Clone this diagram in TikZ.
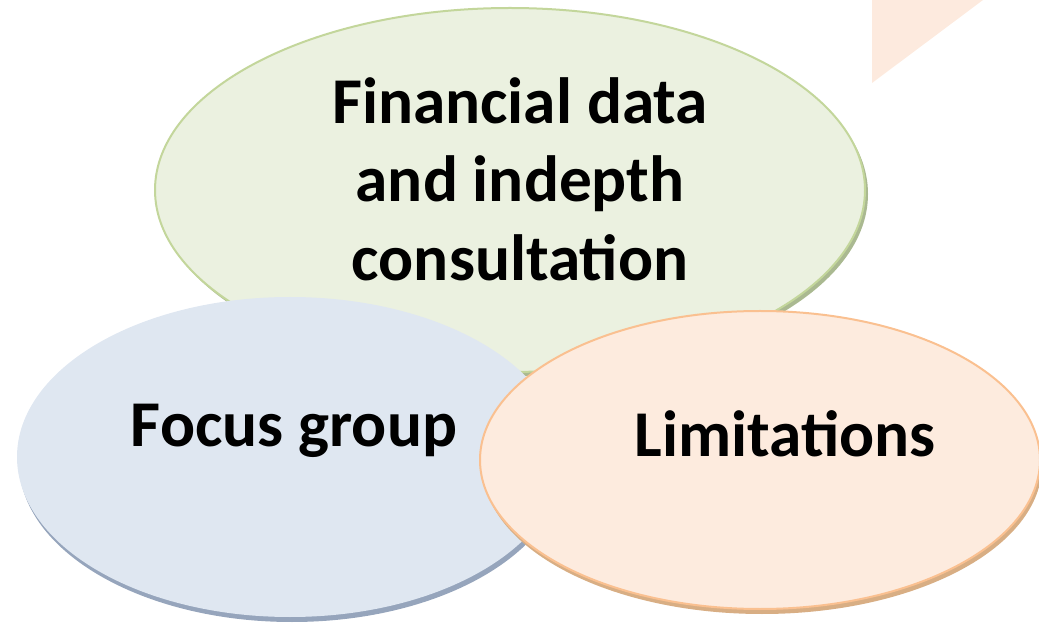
\documentclass[tikz,border=0pt]{standalone}
\usepackage{fontspec}
\setmainfont{Carlito}
\definecolor{grnfill}{RGB}{235,241,224}
\definecolor{grnline}{RGB}{195,214,155}
\definecolor{grnshade}{RGB}{170,185,145}
\definecolor{blufill}{RGB}{223,231,241}
\definecolor{blushade}{RGB}{150,165,188}
\definecolor{pchfill}{RGB}{253,235,222}
\definecolor{pchline}{RGB}{250,192,144}
\definecolor{pchshade}{RGB}{216,174,132}
\definecolor{pchtri}{RGB}{253,234,222}

\tikzset{every picture/.style={line width=0.75pt}}
\tikzset{bigtext/.style={inner sep=0.75pt, align=center, font={\fontsize{49}{59}\selectfont\bfseries}}}

\begin{document}
\begin{tikzpicture}[x=0.75pt,y=0.75pt,yscale=-1,xscale=1]
\useasboundingbox (0,0) rectangle (1039,623);
\clip (0,0) rectangle (1039,623);

%Shape: Triangle [id:tri01]
\fill [color=pchtri] (872,0) -- (983,0) -- (872,83) -- cycle ;
%Shape: Ellipse shadow [id:grn00]
\fill [color=grnshade] (513,194) ellipse (355 and 182) ;
%Shape: Ellipse [id:grn01]
\draw [color=grnline, fill=grnfill, line width=1.5] (510,190) ellipse (355 and 182) ;
%Shape: Ellipse shadow [id:blu00]
\fill [color=blushade] (292,462) ellipse (273 and 160) ;
%Shape: Ellipse [id:blu01]
\fill [color=blufill] (290,457) ellipse (273 and 160) ;
%Shape: Ellipse shadow [id:pch00]
\fill [color=pchshade] (762,465) ellipse (280 and 149) ;
%Shape: Ellipse [id:pch01]
\draw [color=pchline, fill=pchfill, line width=1.5] (760,460) ellipse (280 and 149) ;

% Text Node
\node (fin) at (520,179) [bigtext] {Financial data\\and indepth\\consultation};
% Text Node
\node (foc) at (294,431) [bigtext] {Focus group};
% Text Node
\node (lim) at (785,434) [bigtext] {Limitations};

\end{tikzpicture}
\end{document}
